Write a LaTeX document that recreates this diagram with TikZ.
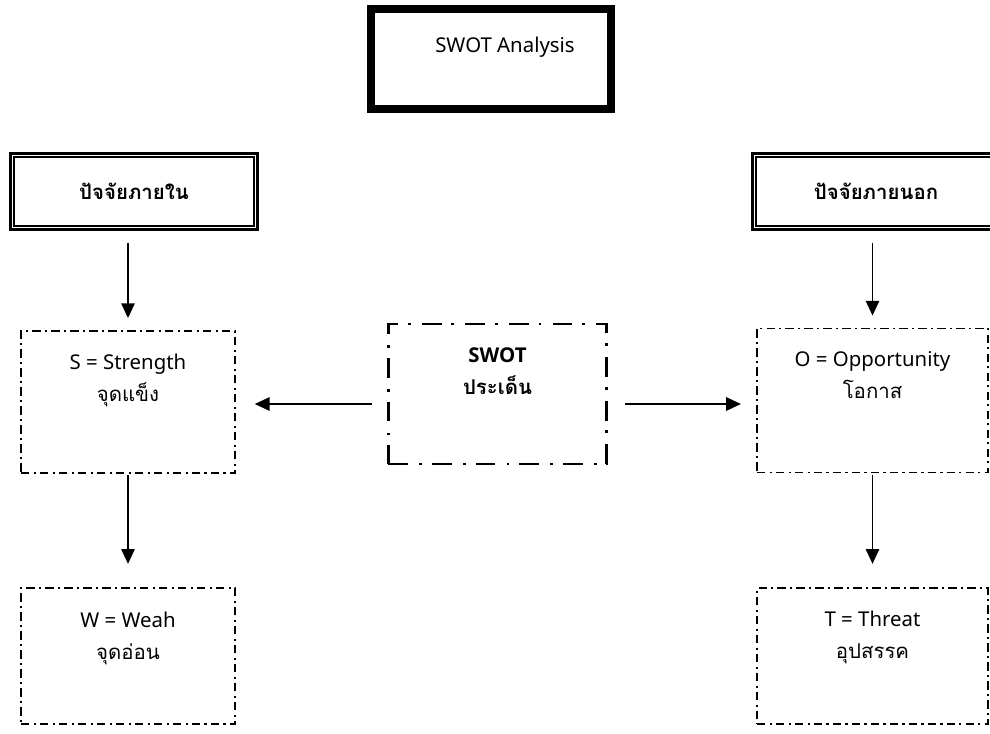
\documentclass[tikz,border=0pt]{standalone}
\usepackage{fontspec}
\setmainfont{Noto Sans}[BoldFont={Open Sans Bold}]
\newfontfamily\thaifont[Script=Thai]{Loma}
\usetikzlibrary{arrows.meta,positioning}

\begin{document}
\begin{tikzpicture}[x=0.025cm, y=-0.025cm,
    dotbox/.style={draw, line width=1.3pt, dash pattern=on 6pt off 3pt on 1.5pt off 3pt},
    issuebox/.style={draw, line width=1.9pt, dash pattern=on 14pt off 8pt on 2pt off 7pt,
      minimum width=5.45cm, minimum height=3.5cm},
    framebox/.style={draw, line width=2.1pt, minimum width=6.175cm, minimum height=1.9cm,
      font=\fontsize{14.5}{18}\selectfont\thaifont\bfseries},
    innerline/.style={line width=1.2pt},
    boxtext/.style={anchor=north, inner sep=0pt, align=center, font=\fontsize{14.5}{22.8}\selectfont},
    arrow/.style={line width=1.2pt, -{Triangle[length=10.5pt, width=9.5pt]}},]
    \useasboundingbox (0,0) rectangle (990,733);
    \clip (0,0) rectangle (990,733);

    % title
    \node[draw, line width=4.3pt, minimum width=6.05cm, minimum height=2.55cm] (title) at (491,59) {};
    \draw[innerline] ([shift={(0.17cm,-0.17cm)}]title.north west) rectangle ([shift={(-0.17cm,0.17cm)}]title.south east);
    \node[boxtext, xshift=0.35cm] (titletxt) at (title.north) {\rule{0pt}{33.4pt}SWOT Analysis};

    % internal / external factors
    \node[framebox] (inner) at (134,191.5) {ปัจจัยภายใน};
    \draw[innerline] ([shift={(0.13cm,-0.13cm)}]inner.north west) rectangle ([shift={(-0.13cm,0.13cm)}]inner.south east);
    \node[framebox] (outer) at (876,191.5) {ปัจจัยภายนอก};
    \draw[innerline] ([shift={(0.13cm,-0.13cm)}]outer.north west) rectangle ([shift={(-0.13cm,0.13cm)}]outer.south east);

    % issue in the middle
    \node[issuebox] (swot) at (497.5,394) {};
    \node[boxtext, font=\fontsize{14.5}{22.8}\selectfont\bfseries] (swottxt) at (swot.north)
      {\rule{0pt}{28.4pt}SWOT\\{\thaifont ประเด็น}};

    % S W O T
    \node[dotbox, minimum width=5.35cm, minimum height=3.55cm] (s) at (128,402) {};
    \node[boxtext] (stxt) at (s.north) {\rule{0pt}{27.7pt}S = Strength\\{\thaifont จุดแข็ง}};
    \node[dotbox, minimum width=5.35cm, minimum height=3.4cm] (w) at (128,656) {};
    \node[boxtext] (wtxt) at (w.north) {\rule{0pt}{28.4pt}W = Weah\\{\thaifont จุดอ่อน}};
    \node[dotbox, minimum width=5.78cm, minimum height=3.6cm] (o) at (872.5,400.5) {};
    \node[boxtext] (otxt) at (o.north) {\rule{0pt}{27.7pt}O = Opportunity\\{\thaifont โอกาส}};
    \node[dotbox, minimum width=5.78cm, minimum height=3.4cm] (t) at (872.5,656) {};
    \node[boxtext] (ttxt) at (t.north) {\rule{0pt}{27.7pt}T = Threat\\{\thaifont อุปสรรค}};

    \coordinate (lmid) at ([yshift=-0.25cm]swot.west);
    \coordinate (rmid) at ([yshift=-0.25cm]swot.east);

    \draw[arrow, shorten <=0.29cm, shorten >=0.3cm] (s.north |- inner.south) -- (s.north);
    \draw[arrow, shorten <=0.29cm, shorten >=0.3cm] (o.north |- outer.south) -- (o.north);
    \draw[arrow, shorten <=0.03cm, shorten >=0.58cm] (s.south) -- (w.north);
    \draw[arrow, shorten <=0.03cm, shorten >=0.58cm] (o.south) -- (t.north);
    \draw[arrow, shorten <=0.375cm, shorten >=0.47cm] (lmid) -- (lmid -| s.east);
    \draw[arrow, shorten <=0.425cm, shorten >=0.375cm] (rmid) -- (rmid -| o.west);

\end{tikzpicture}
\end{document}
